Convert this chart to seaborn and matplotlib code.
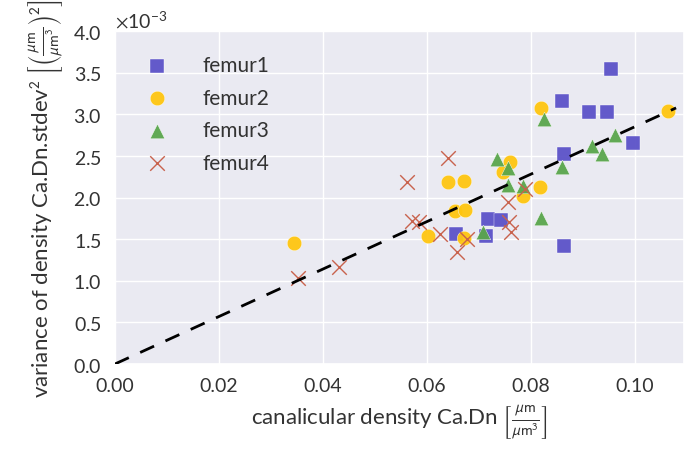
import numpy as np
import pandas as pd
import matplotlib
matplotlib.use("Agg")
import matplotlib.pyplot as plt
from matplotlib.ticker import ScalarFormatter
import seaborn as sns

# canalicular density (x) and variance of density (y, in 1e-3 units)
femur1_x = [0.0954, 0.0913, 0.0948, 0.0860, 0.0998, 0.0864, 0.0865, 0.0719, 0.0744, 0.0656, 0.0715]
femur1_y = [3.55, 3.03, 3.03, 3.16, 2.66, 2.52, 1.42, 1.74, 1.73, 1.56, 1.54]

femur2_x = [0.1065, 0.0821, 0.0760, 0.0746, 0.0641, 0.0672, 0.0819, 0.0785, 0.0654, 0.0673, 0.0602, 0.0671, 0.0344]
femur2_y = [3.04, 3.08, 2.43, 2.31, 2.19, 2.20, 2.13, 2.02, 1.84, 1.85, 1.54, 1.51, 1.45]

femur3_x = [0.0825, 0.0963, 0.0919, 0.0937, 0.0860, 0.0735, 0.0757, 0.0757, 0.0785, 0.0821, 0.0708]
femur3_y = [2.95, 2.75, 2.62, 2.52, 2.37, 2.46, 2.35, 2.15, 2.14, 1.75, 1.59]

femur4_x = [0.0642, 0.0563, 0.0789, 0.0756, 0.0571, 0.0585, 0.0758, 0.0762, 0.0625, 0.0658, 0.0678, 0.0431, 0.0352]
femur4_y = [2.48, 2.19, 2.10, 1.95, 1.72, 1.71, 1.71, 1.59, 1.56, 1.35, 1.50, 1.17, 1.03]

# fit through origin (dashed line)
fit_slope = 0.0285
fit_xmax = 0.108

sns.set_theme(style="darkgrid")
plt.rcParams["font.family"] = ["Lato", "DejaVu Sans"]
plt.rcParams["mathtext.fontset"] = "stixsans"

rows = []
for name, xs, ys in [("femur1", femur1_x, femur1_y), ("femur2", femur2_x, femur2_y),
                     ("femur3", femur3_x, femur3_y), ("femur4", femur4_x, femur4_y)]:
    for xv, yv in zip(xs, ys):
        rows.append({"femur": name, "x": xv, "y": yv * 1e-3})
data = pd.DataFrame(rows)

colors = {"femur1": "#5c52c8", "femur2": "#ffc510", "femur3": "#5aa64c", "femur4": "#c8624d"}
markers = {"femur1": "s", "femur2": "o", "femur3": "^", "femur4": "x"}

fig = plt.figure(figsize=(6.88, 4.6), dpi=100)
ax = fig.add_axes([0.167, 0.2065, 0.827, 0.7235])

for name in ["femur1", "femur2", "femur3", "femur4"]:
    sub = data[data["femur"] == name]
    if markers[name] == "x":
        ax.scatter(sub["x"], sub["y"], marker="x", s=110, color=colors[name],
                   linewidths=1.0, label=name, zorder=3)
    else:
        ax.scatter(sub["x"], sub["y"], marker=markers[name], s=110, color=colors[name],
                   edgecolor="white", linewidths=0.3, alpha=0.95, label=name, zorder=3)

xs = np.array([0.0, fit_xmax])
ax.plot(xs, fit_slope * xs, color="black", lw=2, dashes=(5.5, 4.5), zorder=4)

ax.set_xlim(0, 0.1095)
ax.set_ylim(0, 4e-3)
ax.set_xticks([0.0, 0.02, 0.04, 0.06, 0.08, 0.10])
ax.set_xticklabels(["0.00", "0.02", "0.04", "0.06", "0.08", "0.10"])
fmt = ScalarFormatter(useMathText=True)
fmt.set_powerlimits((-3, -3))
ax.yaxis.set_major_formatter(fmt)
ax.tick_params(labelsize=14, colors="#333333")
ax.yaxis.get_offset_text().set_fontsize(14)
ax.yaxis.get_offset_text().set_color("#333333")

ax.set_xlabel(r"canalicular density Ca.Dn $\left[\frac{\mu\mathrm{m}}{\mu\mathrm{m}^3}\right]$",
              fontsize=16, color="#333333", labelpad=6)
ax.set_ylabel(r"variance of density Ca.Dn.stdev$^2$ $\left[\left(\frac{\mu\mathrm{m}}{\mu\mathrm{m}^3}\right)^2\right]$",
              fontsize=16, color="#333333", labelpad=6)

leg = ax.legend(loc="upper left", frameon=False, fontsize=15, labelspacing=0.6,
                handletextpad=1.2, borderaxespad=0.6, bbox_to_anchor=(0.0, 0.99))
for t in leg.get_texts():
    t.set_color("#333333")

plt.savefig("out.png", dpi=100)
